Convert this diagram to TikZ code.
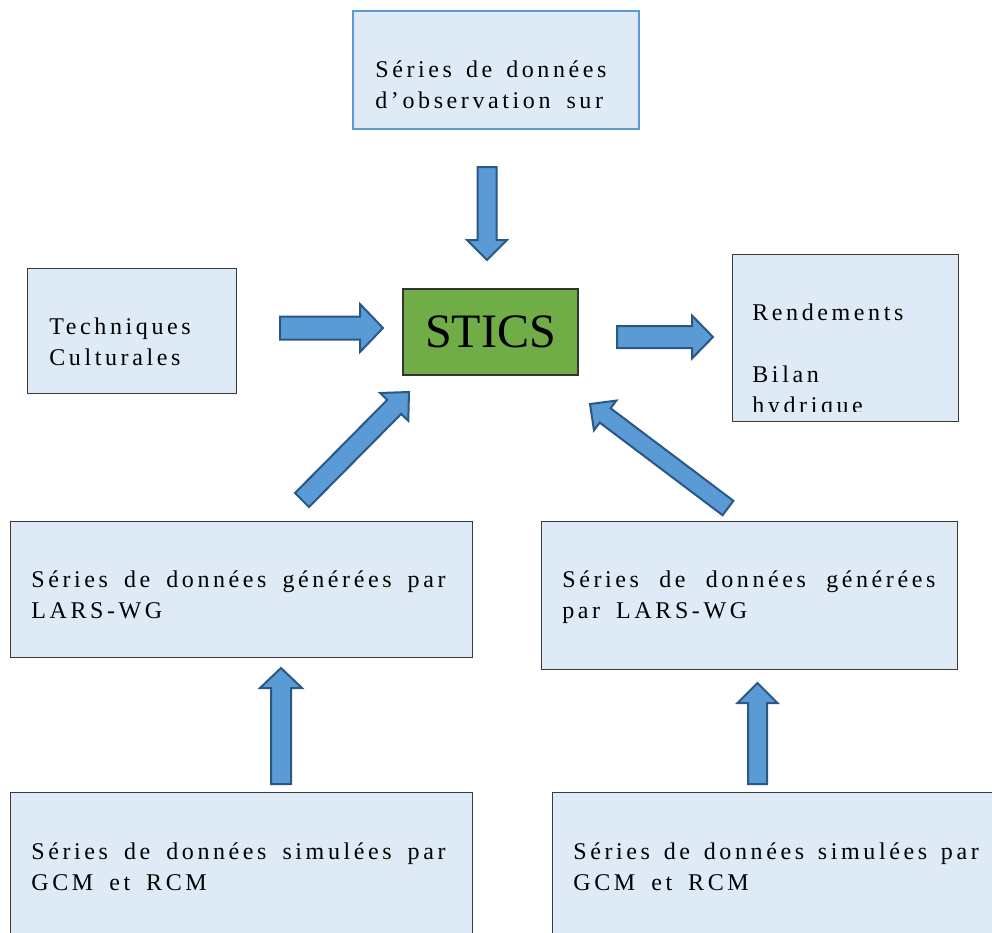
\documentclass[tikz,border=0pt]{standalone}
\usepackage{fontspec}
\setmainfont{Liberation Serif}
\newfontfamily\boxfont[LetterSpace=15]{Liberation Serif}
\newcommand{\boxtextfont}{\boxfont\fontsize{12}{15.5}\selectfont}
\newcommand{\gap}[1][4pt]{\hspace{#1}}
\usetikzlibrary{calc}

\definecolor{boxfill}{HTML}{DEEAF6}
\definecolor{boxline}{HTML}{3A3A3A}
\definecolor{obsline}{HTML}{5B9BD5}
\definecolor{arrowfill}{HTML}{5B9BD5}
\definecolor{arrowline}{HTML}{2A5783}
\definecolor{sticsgreen}{HTML}{70AD47}

% block arrow: tail, tip, shaft half width, head half width, head length
\newcommand{\blockarrow}[5]{%
  \coordinate (ba-h) at ($(#2)!#5!(#1)$);
  \draw[barrow] ($(#1)!#3!90:(#2)$) -- ($(ba-h)!#3!90:(#2)$) -- ($(ba-h)!#4!90:(#2)$)
    -- (#2) -- ($(ba-h)!#4!-90:(#2)$) -- ($(ba-h)!#3!-90:(#2)$) -- ($(#1)!#3!-90:(#2)$) -- cycle;}

\begin{document}
\begin{tikzpicture}[x=0.5pt,y=-0.5pt,
  box/.style={draw=boxline,fill=boxfill,line width=0.6pt,inner sep=0pt,anchor=north west},
  boxtext/.style={anchor=base west,inner sep=0pt,text width=260pt,align=left,font=\boxtextfont},
  barrow/.style={draw=arrowline,fill=arrowfill,line width=1pt,line join=miter}]
  \clip (0,0) rectangle (992,933);

  % boxes
  \node[box,draw=obsline,line width=1.2pt,minimum width=143pt,minimum height=59pt] (obs) at (352,10) {};
  \node[box,minimum width=104.5pt,minimum height=62.5pt] (tech) at (27,268) {};
  \node[box,fill=sticsgreen,draw=black!80,minimum width=87.5pt,minimum height=43pt,
    anchor=center,font=\fontsize{24}{28}\selectfont] (stics) at (490.5,332) {STICS};
  \node[box,minimum width=113pt,minimum height=83.5pt] (rend) at (732,254) {};
  \node[box,minimum width=231pt,minimum height=68pt] (genL) at (10,521) {};
  \node[box,minimum width=208pt,minimum height=74pt] (genR) at (541,521) {};
  \node[box,minimum width=231pt,minimum height=90pt] (simL) at (10,792) {};
  \node[box,minimum width=230pt,minimum height=90pt] (simR) at (552,792) {};

  % texts
  \node[boxtext] (obs-txt) at (375,77) {Séries \gap[3pt]de \gap[3pt]données\\d’observation \gap sur};
  \node[boxtext] (tech-txt) at (49,334) {Techniques\\Culturales};
  \begin{scope}
    \clip (732,254) rectangle (958,411);
    \node[boxtext] (rend-txt) at (752,320) {Rendements\\[15.5pt]Bilan\\hydrique};
  \end{scope}
  \node[boxtext] (genL-txt) at (31,587)
    {Séries \gap de \gap données \gap générées \gap par\\LARS-WG};
  \node[boxtext] (genR-txt) at (562,587)
    {\makebox[186.5pt][s]{Séries\hspace{\fill}de\hspace{\fill}données\hspace{\fill}générées}\\par \gap LARS-WG};
  \node[boxtext] (simL-txt) at (31,859)
    {Séries \gap de \gap données \gap simulées \gap par\\GCM \gap et \gap RCM};
  \node[boxtext] (simR-txt) at (573,859)
    {Séries \gap[2.9pt]de \gap[2.9pt]données \gap[2.9pt]simulées \gap[2.9pt]par\\GCM \gap et \gap RCM};

  % arrow ends
  \coordinate (obs-a) at (487,167);   \coordinate (obs-b) at (487,260);
  \coordinate (tech-a) at (280,328);  \coordinate (tech-b) at (383,328);
  \coordinate (rend-a) at (617,337);  \coordinate (rend-b) at (713,337);
  \coordinate (genL-a) at (302,500);  \coordinate (genL-b) at (409,392);
  \coordinate (genR-a) at (728,508);  \coordinate (genR-b) at (590,404);
  \coordinate (simL-a) at (281,784);  \coordinate (simL-b) at (281,668);
  \coordinate (simR-a) at (757.5,784); \coordinate (simR-b) at (757.5,683);

  % arrows
  \blockarrow{obs-a}{obs-b}{4.75pt}{10pt}{10pt}
  \blockarrow{tech-a}{tech-b}{5.75pt}{12pt}{11.5pt}
  \blockarrow{rend-a}{rend-b}{5.5pt}{10.75pt}{10.5pt}
  \blockarrow{genL-a}{genL-b}{4.95pt}{9.9pt}{10.5pt}
  \blockarrow{genR-a}{genR-b}{4.5pt}{9.3pt}{9.5pt}
  \blockarrow{simL-a}{simL-b}{5pt}{10.5pt}{10pt}
  \blockarrow{simR-a}{simR-b}{4.75pt}{10pt}{10pt}
\end{tikzpicture}
\end{document}
